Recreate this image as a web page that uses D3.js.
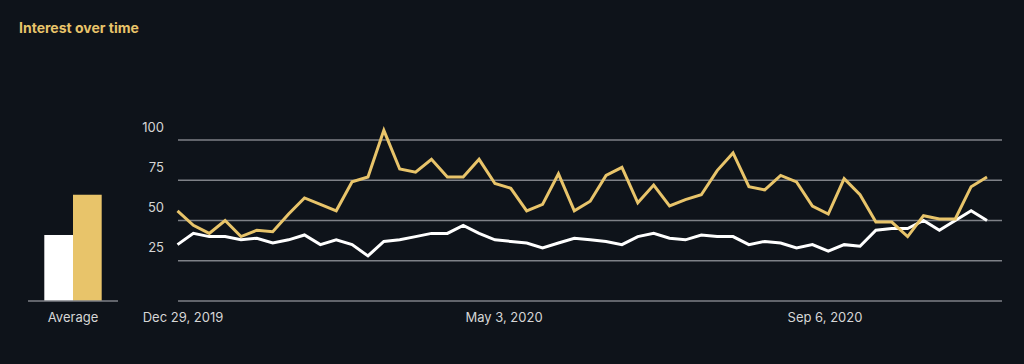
<!DOCTYPE html>
<html>
<head>
<meta charset="utf-8">
<script src="https://cdn.jsdelivr.net/npm/d3@7"></script>
<style>
  html, body { margin: 0; padding: 0; background: #0e131a; }
  svg { display: block; }
  text { font-family: Inter, "Open Sans", sans-serif; }
</style>
</head>
<body>
<script>
// ---------- DATA ----------
const seriesNames = ["white", "yellow"];
const averages = [41, 66];
const yTicks = [0, 25, 50, 75, 100];
const dateLabels = ["Dec 29, 2019", "May 3, 2020", "Sep 6, 2020"];

const yellowValues = [56, 47, 42, 50, 40, 44, 43, 54, 64, 60, 56, 74, 77, 106, 82, 80, 88, 77, 77, 88,
  73, 70, 56, 60, 79, 56, 62, 78, 83, 61, 72, 59, 63, 66, 81, 92, 71, 69, 78, 74,
  59, 54, 76, 66, 49, 49, 40, 53, 51, 51, 71, 77];
const whiteValues = [35, 42, 40, 40, 38, 39, 36, 38, 41, 35, 38, 35, 28, 37, 38, 40, 42, 42, 47, 42,
  38, 37, 36, 33, 36, 39, 38, 37, 35, 40, 42, 39, 38, 41, 40, 40, 35, 37, 36, 33,
  35, 31, 35, 34, 44, 45, 45, 50, 44, 50, 56, 50];

// ---------- LAYOUT ----------
const width = 1024, height = 364;
const colors = { white: "#ffffff", yellow: "#e8c46a" };
const gridColor = "#7e8187";
const textColor = "#d6d6d6";

const svg = d3.select("body").append("svg")
  .attr("width", width).attr("height", height);

// title
svg.append("text")
  .attr("x", 19).attr("y", 29)
  .attr("dominant-baseline", "middle")
  .attr("font-size", 14).attr("font-weight", 700)
  .attr("fill", colors.yellow)
  .text("Interest over time");

// ---------- SCALES ----------
const x = d3.scaleLinear().domain([0, yellowValues.length - 1]).range([177.5, 987]);
const y = d3.scaleLinear().domain([0, 100]).range([301, 140]);
const xLabel = d3.scalePoint().domain(dateLabels).range([183, 825]);

// ---------- GRID ----------
svg.append("g").selectAll("line")
  .data(yTicks)
  .join("line")
  .attr("x1", 178).attr("x2", 1002)
  .attr("y1", d => y(d)).attr("y2", d => y(d))
  .attr("stroke", gridColor).attr("stroke-width", 1.5);

svg.append("g").selectAll("text")
  .data(yTicks.filter(d => d > 0))
  .join("text")
  .attr("x", 164).attr("y", d => y(d) - 12)
  .attr("text-anchor", "end").attr("dominant-baseline", "middle")
  .attr("font-size", 13).attr("fill", textColor)
  .text(d => d);

svg.append("g").selectAll("text")
  .data(dateLabels)
  .join("text")
  .attr("x", d => xLabel(d)).attr("y", 318)
  .attr("text-anchor", "middle").attr("dominant-baseline", "middle")
  .attr("font-size", 13).attr("fill", textColor)
  .text(d => d);

// ---------- LINES ----------
const line = d3.line().x((d, i) => x(i)).y(d => y(d));

svg.append("path")
  .datum(whiteValues)
  .attr("d", line)
  .attr("fill", "none").attr("stroke", colors.white).attr("stroke-width", 3);

svg.append("path")
  .datum(yellowValues)
  .attr("d", line)
  .attr("fill", "none").attr("stroke", colors.yellow).attr("stroke-width", 3);

// ---------- AVERAGE BARS ----------
const xBar = d3.scaleBand().domain(seriesNames).range([44.3, 101.7]).padding(0);

svg.append("g").selectAll("rect")
  .data(averages)
  .join("rect")
  .attr("x", (d, i) => xBar(seriesNames[i]))
  .attr("width", xBar.bandwidth())
  .attr("y", d => y(d))
  .attr("height", d => y(0) - y(d))
  .attr("fill", (d, i) => colors[seriesNames[i]]);

svg.append("line")
  .attr("x1", 28).attr("x2", 118)
  .attr("y1", y(0)).attr("y2", y(0))
  .attr("stroke", gridColor).attr("stroke-width", 1.5);

svg.append("text")
  .attr("x", 73).attr("y", 318)
  .attr("text-anchor", "middle").attr("dominant-baseline", "middle")
  .attr("font-size", 13).attr("fill", textColor)
  .text("Average");
</script>
</body>
</html>
